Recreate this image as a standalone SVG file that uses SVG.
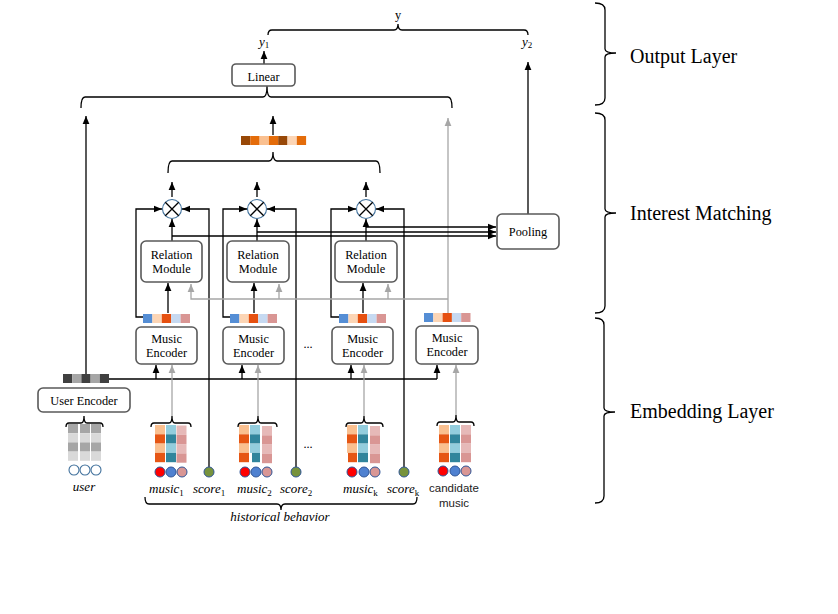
<svg xmlns="http://www.w3.org/2000/svg" width="838" height="614" viewBox="0 0 838 614">
<style>
.box{fill:#fff;stroke:#595959;stroke-width:1.6}
.t{font-family:"Liberation Serif","Times New Roman",serif;font-size:12.3px;fill:#000;text-anchor:middle}
.big{font-family:"Liberation Serif","Times New Roman",serif;font-size:20px;fill:#000}
.it{font-family:"Liberation Serif","Times New Roman",serif;font-style:italic;font-size:13px;fill:#000}
.sub{font-size:9px;font-style:normal}
.sans{font-family:"Liberation Sans",Arial,sans-serif;font-size:11.5px;fill:#222;text-anchor:middle}
.ln{fill:none;stroke:#000;stroke-width:1.3}
.gl{fill:none;stroke:#A6A6A6;stroke-width:1.3}
.br{fill:none;stroke:#000;stroke-width:1.3}
.dot{stroke:#2F5597;stroke-width:1}
.otimes{fill:#fff;stroke:#41719C;stroke-width:1.1}
</style>
<defs>
<marker id="a" markerUnits="userSpaceOnUse" markerWidth="8" markerHeight="8" viewBox="0 0 10 10" refX="10" refY="5" orient="auto"><path d="M0,0.8 L10,5 L0,9.2 z" fill="#000"/></marker>
<marker id="ag" markerUnits="userSpaceOnUse" markerWidth="8" markerHeight="8" viewBox="0 0 10 10" refX="10" refY="5" orient="auto"><path d="M0,0.8 L10,5 L0,9.2 z" fill="#A6A6A6"/></marker>
</defs>
<rect width="838" height="614" fill="#fff"/>

<g id="connectors">
<!-- output layer -->
<path class="ln" d="M264,64 V51" marker-end="url(#a)"/>
<path class="ln" d="M528,214 V62" marker-end="url(#a)"/>
<path class="ln" d="M86,374 V116" marker-end="url(#a)"/>
<path class="ln" d="M273,135 V116" marker-end="url(#a)"/>
<path class="gl" d="M448,313 V118" marker-end="url(#ag)"/>
<!-- otimes outputs -->
<path class="ln" d="M172,197 V182" marker-end="url(#a)"/>
<path class="ln" d="M257,197 V182" marker-end="url(#a)"/>
<path class="ln" d="M366,197 V182" marker-end="url(#a)"/>
<!-- RM to otimes -->
<path class="ln" d="M172,241 V219" marker-end="url(#a)"/>
<path class="ln" d="M257,241 V219" marker-end="url(#a)"/>
<path class="ln" d="M366,241 V219" marker-end="url(#a)"/>
<!-- RM to pooling -->
<path class="ln" d="M172,236 H496" marker-end="url(#a)"/>
<path class="ln" d="M257,232 H496" marker-end="url(#a)"/>
<path class="ln" d="M366,227 H496" marker-end="url(#a)"/>
<!-- left feeds to otimes -->
<path class="ln" d="M143,317 H136 V209 H162" marker-end="url(#a)"/>
<path class="ln" d="M230,317 H223 V209 H247" marker-end="url(#a)"/>
<path class="ln" d="M339,317 H331 V209 H356" marker-end="url(#a)"/>
<!-- score feeds to otimes -->
<path class="ln" d="M209,467 V209 H182" marker-end="url(#a)"/>
<path class="ln" d="M296,467 V209 H267" marker-end="url(#a)"/>
<path class="ln" d="M404,467 V209 H376" marker-end="url(#a)"/>
<!-- embeddings to RM -->
<path class="ln" d="M168,313 V283" marker-end="url(#a)"/>
<path class="ln" d="M254,313 V283" marker-end="url(#a)"/>
<path class="ln" d="M363,313 V283" marker-end="url(#a)"/>
<!-- candidate to RM (gray) -->
<path class="gl" d="M448,299 H191 V284" marker-end="url(#ag)"/>
<path class="gl" d="M279,299 V284" marker-end="url(#ag)"/>
<path class="gl" d="M388,299 V284" marker-end="url(#ag)"/>
<!-- user embedding to music encoders -->
<path class="ln" d="M109,379 H437"/>
<path class="ln" d="M156,379 V365" marker-end="url(#a)"/>
<path class="ln" d="M242,379 V365" marker-end="url(#a)"/>
<path class="ln" d="M351,379 V365" marker-end="url(#a)"/>
<path class="ln" d="M437,379 V365" marker-end="url(#a)"/>
<!-- music features to encoders (gray) -->
<path class="gl" d="M172,416 V365" marker-end="url(#ag)"/>
<path class="gl" d="M258,416 V365" marker-end="url(#ag)"/>
<path class="gl" d="M364,416 V365" marker-end="url(#ag)"/>
<path class="gl" d="M456,415 V365" marker-end="url(#ag)"/>
</g>

<g id="braces">
<path class="br" d="M268,35 Q268,30 272,30 H394 Q398,30 398,24 Q398,30 402,30 H524 Q528,30 528,35"/>
<path class="br" d="M81,108 Q81,97 85,97 H263 Q267,97 267,86 Q267,97 271,97 H448 Q452,97 452,108"/>
<path class="br" d="M168,173 Q168,161 172,161 H269 Q273,161 273,152 Q273,161 277,161 H376 Q380,161 380,173"/>
<path class="br" d="M66,427 Q66,423 69,423 H81 Q84,423 84,416 Q84,423 87,423 H100 Q103,423 103,427"/>
<path class="br" d="M151,427 Q151,423 154,423 H169 Q172,423 172,416 Q172,423 175,423 H188 Q191,423 191,427"/>
<path class="br" d="M238,427 Q238,423 241,423 H255 Q258,423 258,416 Q258,423 261,423 H274 Q277,423 277,427"/>
<path class="br" d="M346,427 Q346,423 349,423 H361 Q364,423 364,416 Q364,423 367,423 H380 Q383,423 383,427"/>
<path class="br" d="M437,426 Q437,422 440,422 H453 Q456,422 456,415 Q456,422 459,422 H471 Q474,422 474,426"/>
<path class="br" d="M145,497 Q145,504 149,504 H277 Q281,504 281,510 Q281,504 285,504 H413 Q417,504 417,497"/>
</g>

<g id="y-label"><text class="t" x="398" y="19" font-size="12.5">y</text></g>
<g id="y1-label"><text class="it" x="259" y="46" font-size="12.5">y<tspan class="sub" dy="2">1</tspan></text></g>
<g id="y2-label"><text class="it" x="522" y="46" font-size="12.5">y<tspan class="sub" dy="2">2</tspan></text></g>

<g id="linear"><rect class="box" x="232" y="64" width="63" height="22" rx="4"/><text class="t" x="263.5" y="81">Linear</text></g>

<g id="interest-vector">
<rect x="241" y="136" width="9.3" height="9" fill="#984807"/>
<rect x="250.3" y="136" width="9.3" height="9" fill="#E46C0A"/>
<rect x="259.6" y="136" width="9.3" height="9" fill="#FAC090"/>
<rect x="268.9" y="136" width="9.3" height="9" fill="#E46C0A"/>
<rect x="278.2" y="136" width="9.3" height="9" fill="#984807"/>
<rect x="287.5" y="136" width="9.3" height="9" fill="#FCD5B5"/>
<rect x="296.8" y="136" width="9.3" height="9" fill="#E46C0A"/>
</g>

<g id="otimes1"><circle class="otimes" cx="172" cy="209" r="9.5"/><path class="ln" d="M165.3,202.3 L178.7,215.7 M178.7,202.3 L165.3,215.7"/></g>
<g id="otimes2"><circle class="otimes" cx="257" cy="209" r="9.5"/><path class="ln" d="M250.3,202.3 L263.7,215.7 M263.7,202.3 L250.3,215.7"/></g>
<g id="otimes3"><circle class="otimes" cx="366" cy="209" r="9.5"/><path class="ln" d="M359.3,202.3 L372.7,215.7 M372.7,202.3 L359.3,215.7"/></g>

<g id="pooling"><rect class="box" x="497" y="214" width="62" height="35" rx="5"/><text class="t" x="528" y="236">Pooling</text></g>

<g id="relation1"><rect class="box" x="141" y="241" width="61" height="41" rx="5"/><text class="t" x="171.5" y="259">Relation</text><text class="t" x="171.5" y="273">Module</text></g>
<g id="relation2"><rect class="box" x="227" y="241" width="62" height="41" rx="5"/><text class="t" x="258" y="259">Relation</text><text class="t" x="258" y="273">Module</text></g>
<g id="relation3"><rect class="box" x="335" y="241" width="62" height="41" rx="5"/><text class="t" x="366" y="259">Relation</text><text class="t" x="366" y="273">Module</text></g>

<g id="emb1">
<rect x="143" y="314" width="9.4" height="9" fill="#558ED5"/><rect x="152.4" y="314" width="9.4" height="9" fill="#FCD5B5"/><rect x="161.8" y="314" width="9.4" height="9" fill="#E65010"/><rect x="171.2" y="314" width="9.4" height="9" fill="#C6D9F1"/><rect x="180.6" y="314" width="9.4" height="9" fill="#D99694"/>
</g>
<g id="emb2">
<rect x="230" y="314" width="9.4" height="9" fill="#558ED5"/><rect x="239.4" y="314" width="9.4" height="9" fill="#FCD5B5"/><rect x="248.8" y="314" width="9.4" height="9" fill="#E65010"/><rect x="258.2" y="314" width="9.4" height="9" fill="#C6D9F1"/><rect x="267.6" y="314" width="9.4" height="9" fill="#D99694"/>
</g>
<g id="emb3">
<rect x="339" y="314" width="9.4" height="9" fill="#558ED5"/><rect x="348.4" y="314" width="9.4" height="9" fill="#FCD5B5"/><rect x="357.8" y="314" width="9.4" height="9" fill="#E65010"/><rect x="367.2" y="314" width="9.4" height="9" fill="#C6D9F1"/><rect x="376.6" y="314" width="9.4" height="9" fill="#D99694"/>
</g>
<g id="emb-candidate">
<rect x="424" y="313" width="9.3" height="9" fill="#558ED5"/><rect x="433.3" y="313" width="9.3" height="9" fill="#FCD5B5"/><rect x="442.6" y="313" width="9.3" height="9" fill="#E65010"/><rect x="451.9" y="313" width="9.3" height="9" fill="#C6D9F1"/><rect x="461.2" y="313" width="9.3" height="9" fill="#D99694"/>
</g>

<g id="music-encoder1"><rect class="box" x="136" y="327" width="61" height="37" rx="5"/><text class="t" x="166.5" y="343">Music</text><text class="t" x="166.5" y="357">Encoder</text></g>
<g id="music-encoder2"><rect class="box" x="223" y="327" width="61" height="37" rx="5"/><text class="t" x="253.5" y="343">Music</text><text class="t" x="253.5" y="357">Encoder</text></g>
<g id="music-encoder3"><rect class="box" x="332" y="327" width="61" height="37" rx="5"/><text class="t" x="362.5" y="343">Music</text><text class="t" x="362.5" y="357">Encoder</text></g>
<g id="music-encoder4"><rect class="box" x="416" y="326" width="62" height="38" rx="5"/><text class="t" x="447" y="342">Music</text><text class="t" x="447" y="356">Encoder</text></g>

<g id="ellipsis"><text class="t" x="308" y="348" font-size="15">...</text><text class="t" x="308" y="448" font-size="15">...</text></g>

<g id="user-embedding">
<rect x="63" y="374" width="9.2" height="9" fill="#404040"/><rect x="72.2" y="374" width="9.2" height="9" fill="#A6A6A6"/><rect x="81.4" y="374" width="9.2" height="9" fill="#404040"/><rect x="90.6" y="374" width="9.2" height="9" fill="#A6A6A6"/><rect x="99.8" y="374" width="9.2" height="9" fill="#404040"/>
</g>

<g id="user-encoder"><rect class="box" x="38" y="388" width="92" height="24" rx="5"/><text class="t" x="84" y="405">User Encoder</text></g>

<g id="user-input">
<rect x="68" y="424" width="10" height="9.2" fill="#A6A6A6"/><rect x="68" y="433.2" width="10" height="9.2" fill="#D9D9D9"/><rect x="68" y="442.4" width="10" height="9.2" fill="#A6A6A6"/><rect x="68" y="451.6" width="10" height="9.2" fill="#D9D9D9"/>
<rect x="80" y="424" width="10" height="9.2" fill="#A6A6A6"/><rect x="80" y="433.2" width="10" height="9.2" fill="#D9D9D9"/><rect x="80" y="442.4" width="10" height="9.2" fill="#A6A6A6"/><rect x="80" y="451.6" width="10" height="9.2" fill="#D9D9D9"/>
<rect x="91" y="424" width="10" height="9.2" fill="#A6A6A6"/><rect x="91" y="433.2" width="10" height="9.2" fill="#D9D9D9"/><rect x="91" y="442.4" width="10" height="9.2" fill="#A6A6A6"/><rect x="91" y="451.6" width="10" height="9.2" fill="#D9D9D9"/>
<circle cx="74" cy="470" r="5" fill="#fff" stroke="#41719C" stroke-width="1.1"/><circle cx="85" cy="470" r="5" fill="#fff" stroke="#41719C" stroke-width="1.1"/><circle cx="96" cy="470" r="5" fill="#fff" stroke="#41719C" stroke-width="1.1"/>
<text class="it" x="84" y="491" text-anchor="middle">user</text>
</g>

<g id="music1">
<rect x="155" y="425" width="10" height="9.3" fill="#FAC090"/><rect x="155" y="434.3" width="10" height="9.3" fill="#E65614"/><rect x="155" y="443.6" width="10" height="9.3" fill="#FAC090"/><rect x="155" y="452.9" width="10" height="9.3" fill="#E65614"/>
<rect x="166" y="425" width="10" height="9.3" fill="#93CDDD"/><rect x="166" y="434.3" width="10" height="9.3" fill="#31859C"/><rect x="166" y="443.6" width="10" height="9.3" fill="#93CDDD"/><rect x="166" y="452.9" width="10" height="9.3" fill="#31859C"/>
<rect x="176.5" y="425.5" width="10" height="9.3" fill="#E6B9B8"/><rect x="176.5" y="434.8" width="10" height="9.3" fill="#D99694"/><rect x="176.5" y="444.1" width="10" height="9.3" fill="#E6B9B8"/><rect x="176.5" y="453.4" width="10" height="9.3" fill="#D99694"/>
<circle class="dot" cx="160" cy="472" r="5" fill="#FF0000"/><circle class="dot" cx="171" cy="472" r="5" fill="#4F81D0"/><circle class="dot" cx="182" cy="472" r="5" fill="#D99694"/>
<text class="it" x="149" y="493">music<tspan class="sub" dy="3">1</tspan></text>
</g>
<g id="score1"><circle class="dot" cx="209" cy="472" r="5" fill="#77933C"/><text class="it" x="193" y="493">score<tspan class="sub" dy="3">1</tspan></text></g>

<g id="music2">
<rect x="239" y="425" width="10" height="9.3" fill="#FAC090"/><rect x="239" y="434.3" width="10" height="9.3" fill="#E65614"/><rect x="239" y="443.6" width="10" height="9.3" fill="#FAC090"/><rect x="239" y="452.9" width="10" height="9.3" fill="#E65614"/>
<rect x="250" y="425" width="10" height="9.3" fill="#93CDDD"/><rect x="250" y="434.3" width="10" height="9.3" fill="#31859C"/><rect x="250" y="443.6" width="10" height="9.3" fill="#93CDDD"/><rect x="252" y="452.9" width="8" height="9.3" fill="#31859C"/>
<rect x="262" y="426" width="10" height="9.3" fill="#E6B9B8"/><rect x="262" y="435.3" width="10" height="9.3" fill="#D99694"/><rect x="262" y="444.6" width="10" height="9.3" fill="#E6B9B8"/><rect x="262" y="453.9" width="10" height="9.3" fill="#D99694"/>
<circle class="dot" cx="245" cy="472" r="5" fill="#FF0000"/><circle class="dot" cx="256" cy="472" r="5" fill="#4F81D0"/><circle class="dot" cx="267" cy="472" r="5" fill="#D99694"/>
<text class="it" x="237" y="493">music<tspan class="sub" dy="3">2</tspan></text>
</g>
<g id="score2"><circle class="dot" cx="296" cy="472" r="5" fill="#77933C"/><text class="it" x="280" y="493">score<tspan class="sub" dy="3">2</tspan></text></g>

<g id="musick">
<rect x="347" y="425" width="10" height="9.3" fill="#FAC090"/><rect x="347" y="434.3" width="10" height="9.3" fill="#E65614"/><rect x="347" y="443.6" width="10" height="9.3" fill="#FAC090"/><rect x="348" y="452.9" width="9" height="9.3" fill="#E65614"/>
<rect x="358" y="425" width="10" height="9.3" fill="#93CDDD"/><rect x="358" y="434.3" width="10" height="9.3" fill="#31859C"/><rect x="358" y="443.6" width="10" height="9.3" fill="#93CDDD"/><rect x="358" y="452.9" width="10" height="9.3" fill="#31859C"/>
<rect x="370" y="426" width="10" height="9.3" fill="#E6B9B8"/><rect x="370" y="435.3" width="10" height="9.3" fill="#D99694"/><rect x="370" y="444.6" width="10" height="9.3" fill="#E6B9B8"/><rect x="370" y="453.9" width="10" height="9.3" fill="#D99694"/>
<circle class="dot" cx="352" cy="472" r="5" fill="#FF0000"/><circle class="dot" cx="364" cy="472" r="5" fill="#4F81D0"/><circle class="dot" cx="375" cy="472" r="5" fill="#D99694"/>
<text class="it" x="343" y="493">music<tspan class="sub" dy="3">k</tspan></text>
</g>
<g id="scorek"><circle class="dot" cx="404" cy="472" r="5" fill="#77933C"/><text class="it" x="387" y="493">score<tspan class="sub" dy="3">k</tspan></text></g>

<g id="candidate">
<rect x="439" y="425" width="10" height="9.3" fill="#FAC090"/><rect x="439" y="434.3" width="10" height="9.3" fill="#E65614"/><rect x="439" y="443.6" width="10" height="9.3" fill="#FAC090"/><rect x="439" y="452.9" width="10" height="9.3" fill="#E65614"/>
<rect x="450" y="425" width="10" height="9.3" fill="#93CDDD"/><rect x="450" y="434.3" width="10" height="9.3" fill="#31859C"/><rect x="450" y="443.6" width="10" height="9.3" fill="#93CDDD"/><rect x="450" y="452.9" width="10" height="9.3" fill="#31859C"/>
<rect x="461" y="425" width="10" height="9.3" fill="#E6B9B8"/><rect x="461" y="434.3" width="10" height="9.3" fill="#D99694"/><rect x="461" y="443.6" width="10" height="9.3" fill="#E6B9B8"/><rect x="461" y="452.9" width="10" height="9.3" fill="#D99694"/>
<circle class="dot" cx="443" cy="471" r="5" fill="#FF0000"/><circle class="dot" cx="455" cy="471" r="5" fill="#4F81D0"/><circle class="dot" cx="466" cy="471" r="5" fill="#D99694"/>
<text class="sans" x="454" y="492">candidate</text><text class="sans" x="454" y="507">music</text>
</g>

<g id="historical-label"><text class="it" x="280" y="521" text-anchor="middle">historical behavior</text></g>

<g id="layer-brackets">
<path class="br" d="M595,3 Q605,3 605,10 V49 Q605,53 616,53 Q605,53 605,57 V98 Q605,105 595,105"/>
<path class="br" d="M595,113 Q605,113 605,120 V209 Q605,213 616,213 Q605,213 605,217 V306 Q605,313 595,313"/>
<path class="br" d="M595,318 Q604,318 604,325 V408 Q604,412 615,412 Q604,412 604,416 V496 Q604,503 595,503" stroke="#7F7F7F"/>
<text class="big" x="630" y="63">Output Layer</text>
<text class="big" x="630" y="220">Interest Matching</text>
<text class="big" x="630" y="418">Embedding Layer</text>
</g>
</svg>
